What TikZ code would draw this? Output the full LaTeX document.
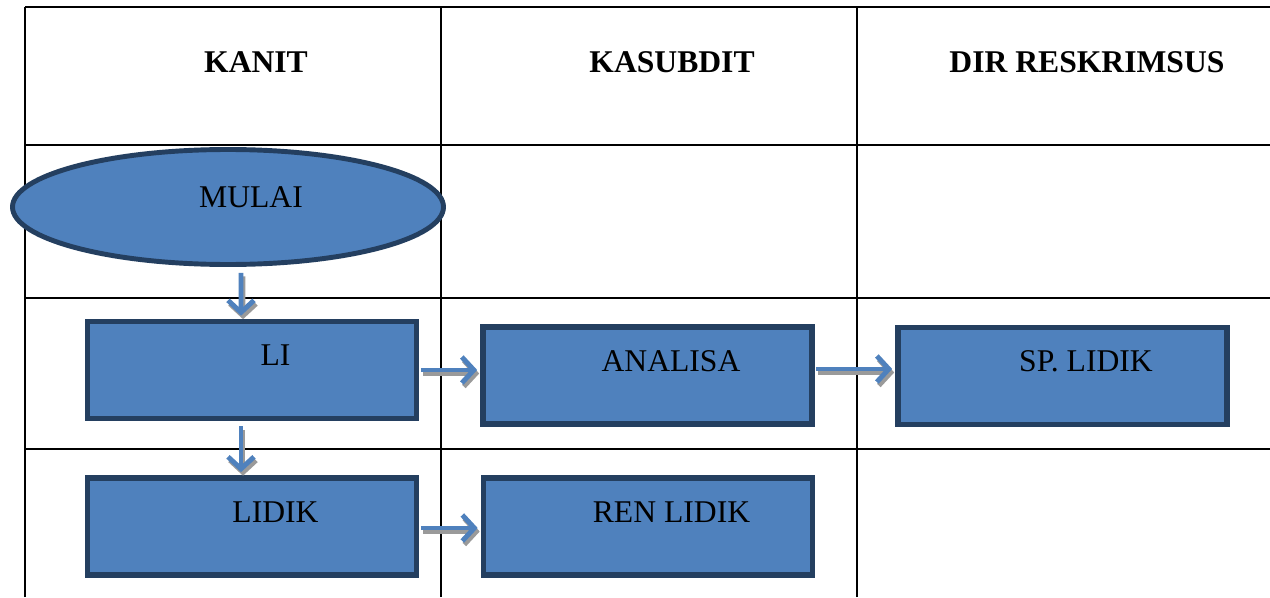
\documentclass[tikz,border=0pt]{standalone}
\usepackage{fontspec}
\setmainfont{Liberation Serif}
\usepackage{xcolor}
\usepackage{tikz}
\usetikzlibrary{shapes.geometric,arrows.meta}
\definecolor{PDFill}{HTML}{4F81BD}
\definecolor{PDEdge}{HTML}{243F60}
\definecolor{PDArrow}{HTML}{4F81BD}
\definecolor{PDShade}{HTML}{9A9A9A}
\tikzset{
  grid/.style={black,line width=1.1pt},
  head/.style={font=\fontsize{18}{20}\selectfont\bfseries},
  stepbox/.style={rectangle,fill=PDFill,draw=PDEdge,line width=3.2pt,
    minimum width=6.58cm,minimum height=1.94cm,inner sep=0pt},
  boxtext/.style={xshift=0.47cm,yshift=0.29cm,font=\fontsize{18}{20}\selectfont},
  startshape/.style={ellipse,fill=PDFill,draw=PDEdge,line width=2.8pt,
    minimum width=8.62cm,minimum height=2.30cm,inner sep=0pt},
  flow/.style={PDArrow,line width=2.8pt,
    -{Straight Barb[length=0.24cm,width=0.52cm,line width=2.8pt]},
    preaction={draw=PDShade,line width=2.8pt,
      -{Straight Barb[length=0.24cm,width=0.52cm,line width=2.8pt]},
      transform canvas={xshift=0.04cm,yshift=-0.07cm}}}
}
\begin{document}
\begin{tikzpicture}[x=1cm,y=1cm]
\path[use as bounding box] (0,0) rectangle (25.40,11.94);
\fill[white] (0,0) rectangle (25.40,11.94);
\draw[grid] (0.50,0) -- (0.50,11.80);
\draw[grid] (8.82,0) -- (8.82,11.80);
\draw[grid] (17.14,0) -- (17.14,11.80);
\draw[grid] (0.50,11.80) -- (25.40,11.80);
\draw[grid] (0.50,9.04) -- (25.40,9.04);
\draw[grid] (0.50,5.98) -- (25.40,5.98);
\draw[grid] (0.50,2.96) -- (25.40,2.96);
\node[head] (kanit) at (5.12,10.70) {KANIT};
\node[head] (kasubdit) at (13.44,10.70) {KASUBDIT};
\node[head] (dir) at (21.74,10.70) {DIR RESKRIMSUS};
\node[startshape,label={[xshift=0.46cm,yshift=0.20cm,font=\fontsize{18}{20}\selectfont]center:MULAI}] (mulai) at (4.56,7.80) {};
\node[stepbox,label={[boxtext]center:LI}] (li) at (5.04,4.54) {};
\node[stepbox,label={[boxtext]center:ANALISA}] (analisa) at (12.95,4.43) {};
\node[stepbox,label={[boxtext]center:SP. LIDIK}] (sp) at (21.25,4.42) {};
\node[stepbox,label={[boxtext]center:LIDIK}] (lidik) at (5.04,1.41) {};
\node[stepbox,label={[boxtext]center:REN LIDIK}] (ren) at (12.96,1.41) {};
\draw[flow] ([xshift=0.26cm,yshift=-0.12cm]mulai.south) -- ([xshift=-0.22cm,yshift=0.06cm]li.north);
\draw[flow] ([xshift=-0.22cm,yshift=-0.10cm]li.south) -- ([xshift=-0.22cm,yshift=0.06cm]lidik.north);
\draw[flow] ([xshift=0.03cm]li.east) -- ([xshift=-0.06cm]li.east -| analisa.west);
\draw[flow] ([xshift=0.03cm,yshift=0.13cm]analisa.east) -- ([xshift=-0.06cm,yshift=0.13cm]analisa.east -| sp.west);
\draw[flow] ([xshift=0.03cm,yshift=-0.03cm]lidik.east) -- ([xshift=-0.06cm,yshift=-0.03cm]lidik.east -| ren.west);
\end{tikzpicture}
\end{document}
